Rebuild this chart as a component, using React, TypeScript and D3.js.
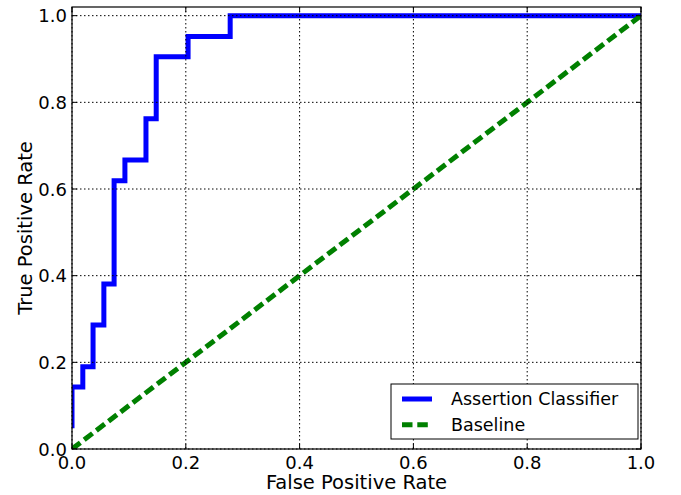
import * as d3 from "d3";
import { useEffect, useRef } from "react";

// ROC curve points
const fpr = [0, 0, 0.019, 0.019, 0.037, 0.037, 0.056, 0.056, 0.074, 0.074, 0.093, 0.093, 0.13, 0.13, 0.148, 0.148, 0.204, 0.204, 0.278, 0.278, 1.0];
const tpr = [0.048, 0.143, 0.143, 0.19, 0.19, 0.286, 0.286, 0.381, 0.381, 0.619, 0.619, 0.667, 0.667, 0.762, 0.762, 0.905, 0.905, 0.952, 0.952, 1.0, 1.0];
const baselineX = [0, 1];
const baselineY = [0, 1];
const tickValues = [0, 0.2, 0.4, 0.6, 0.8, 1.0];
const seriesNames = ["Assertion Classifier", "Baseline"];

export default function App() {
    const ref = useRef<SVGSVGElement>(null);

    useEffect(() => {
        const svg = d3.select(ref.current);
        svg.selectAll("*").remove();

        const width = 681;
        const height = 495;
        const font = "DejaVu Sans";
        const left = 72, right = 641, top = 7, bottom = 449;

        const x = d3.scaleLinear().domain([0, 1]).range([left, right]);
        const y = d3.scaleLinear().domain([0, 1.02]).range([bottom, top]);

        svg.attr("width", width).attr("height", height);
        svg.append("rect").attr("width", width).attr("height", height).attr("fill", "white");

        svg.append("defs").append("clipPath").attr("id", "plot-clip")
            .append("rect")
            .attr("x", left).attr("y", top)
            .attr("width", right - left).attr("height", bottom - top);

        const line = d3.line<[number, number]>()
            .x(d => x(d[0]))
            .y(d => y(d[1]));

        const plot = svg.append("g").attr("clip-path", "url(#plot-clip)");

        // Lines
        plot.append("path")
            .datum(fpr.map((v, i) => [v, tpr[i]] as [number, number]))
            .attr("d", line)
            .attr("fill", "none")
            .attr("stroke", "#0000ff")
            .attr("stroke-width", 5);

        plot.append("path")
            .datum(baselineX.map((v, i) => [v, baselineY[i]] as [number, number]))
            .attr("d", line)
            .attr("fill", "none")
            .attr("stroke", "#008000")
            .attr("stroke-width", 5)
            .attr("stroke-dasharray", "10.5,4.8");

        // Grid (drawn above the lines, as in the original)
        const grid = svg.append("g")
            .attr("stroke", "black")
            .attr("stroke-width", 1)
            .attr("stroke-dasharray", "1.5,2.5");
        grid.selectAll(".gx")
            .data(tickValues)
            .join("line")
            .attr("x1", d => x(d)).attr("x2", d => x(d))
            .attr("y1", top).attr("y2", bottom);
        grid.selectAll(".gy")
            .data(tickValues)
            .join("line")
            .attr("x1", left).attr("x2", right)
            .attr("y1", d => y(d)).attr("y2", d => y(d));

        // Frame
        svg.append("rect")
            .attr("x", left).attr("y", top)
            .attr("width", right - left).attr("height", bottom - top)
            .attr("fill", "none")
            .attr("stroke", "black")
            .attr("stroke-width", 1.2);

        // Inward ticks on all four sides
        const tickLen = 5;
        const ticks = svg.append("g").attr("stroke", "black").attr("stroke-width", 1);
        tickValues.forEach(v => {
            ticks.append("line").attr("x1", x(v)).attr("x2", x(v)).attr("y1", bottom).attr("y2", bottom - tickLen);
            ticks.append("line").attr("x1", x(v)).attr("x2", x(v)).attr("y1", top).attr("y2", top + tickLen);
            ticks.append("line").attr("y1", y(v)).attr("y2", y(v)).attr("x1", left).attr("x2", left + tickLen);
            ticks.append("line").attr("y1", y(v)).attr("y2", y(v)).attr("x1", right).attr("x2", right - tickLen);
        });

        const fmt = d3.format(".1f");

        svg.append("g")
            .selectAll("text")
            .data(tickValues)
            .join("text")
            .attr("x", d => x(d))
            .attr("y", 469)
            .attr("text-anchor", "middle")
            .attr("font-family", font)
            .attr("font-size", 18)
            .text(d => fmt(d));

        svg.append("g")
            .selectAll("text")
            .data(tickValues)
            .join("text")
            .attr("x", 67)
            .attr("y", d => y(d) + 6.5)
            .attr("text-anchor", "end")
            .attr("font-family", font)
            .attr("font-size", 18)
            .text(d => fmt(d));

        // Axis labels
        svg.append("text")
            .attr("x", (left + right) / 2)
            .attr("y", 489)
            .attr("text-anchor", "middle")
            .attr("font-family", font)
            .attr("font-size", 19.5)
            .text("False Positive Rate");

        svg.append("text")
            .attr("transform", `translate(32,${(top + bottom) / 2}) rotate(-90)`)
            .attr("text-anchor", "middle")
            .attr("font-family", font)
            .attr("font-size", 19.5)
            .text("True Positive Rate");

        // Legend
        const legend = svg.append("g");
        legend.append("rect")
            .attr("x", 391).attr("y", 384)
            .attr("width", 247).attr("height", 55)
            .attr("fill", "white")
            .attr("stroke", "black")
            .attr("stroke-width", 1);

        const legendColors = ["#0000ff", "#008000"];
        const legendDash = [null, "10.5,4.8"];
        seriesNames.forEach((name, i) => {
            const ly = 399 + i * 25.7;
            legend.append("line")
                .attr("x1", 402).attr("x2", 432)
                .attr("y1", ly).attr("y2", ly)
                .attr("stroke", legendColors[i])
                .attr("stroke-width", 5)
                .attr("stroke-dasharray", legendDash[i]);
            legend.append("text")
                .attr("x", 451)
                .attr("y", ly + 6.2)
                .attr("font-family", font)
                .attr("font-size", 17.5)
                .text(name);
        });
    }, []);

    return (
        <div style={{ position: "absolute", left: 0, top: 0 }}>
            <svg ref={ref} style={{ display: "block" }}></svg>
        </div>
    );
}
